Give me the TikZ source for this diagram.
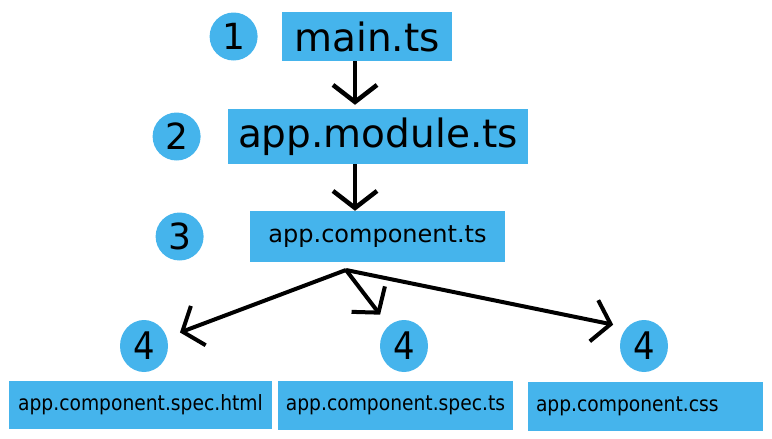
\documentclass[tikz,border=0pt]{standalone}
\usepackage{fontspec}
\setmainfont{DejaVu Sans}
\newfontfamily\condfont[FakeStretch=0.89]{DejaVu Sans}
\usetikzlibrary{arrows.meta,positioning,shapes.geometric}
\definecolor{skyblue}{HTML}{45B4EC}

\begin{document}
\begin{tikzpicture}[
x=1pt,y=-1pt,
file/.style={rectangle,fill=skyblue,inner sep=0pt},
big/.style={font=\fontsize{39}{44}\selectfont},
small/.style={font=\condfont\fontsize{21}{25}\selectfont},
num/.style={circle,fill=skyblue,inner sep=0pt,minimum size=48pt,font=\fontsize{36}{40}\selectfont},
numb/.style={ellipse,fill=skyblue,inner sep=0pt,minimum width=48pt,minimum height=52pt,font=\condfont\fontsize{38}{40}\selectfont},
arr/.style={-{Straight Barb[length=17pt,width=44pt]},line width=4.5pt},
arrb/.style={-{Straight Barb[length=17pt,width=42pt]},line width=4pt,shorten >=14pt}
]
\useasboundingbox (0,0) rectangle (772,439);

% top chain
\node[file,big,minimum width=170pt,minimum height=49pt] (main) at (367,36.5) {main.ts};
\node[file,big,minimum width=300pt,minimum height=55pt] (module) at (378,136.5) {app.module.ts};
\node[file,font=\fontsize{24}{28}\selectfont,minimum width=255pt,minimum height=51pt] (comp) at (377.5,236.5) {app.component.ts};

\node[num,left=24pt of main] (n1) {1};
\node[num,left=27pt of module] (n2) {2};
\node[num,left=46pt of comp] (n3) {3};

% bottom row
\node[numb] (n4a) at (144,346) {4};
\node[numb] (n4b) at (404,346) {4};
\node[numb] (n4c) at (644,346) {4};

\node[file,small,minimum width=263pt,minimum height=48pt] (html) at (140.5,405) {app.component.spec.html};
\node[file,small,minimum width=235pt,minimum height=49pt] (spec) at (395.5,405.5) {app.component.spec.ts};
\node[file,small,text width=219pt,align=left,inner xsep=8pt,minimum height=49pt] (css) at (645.5,406.5) {app.component.css};

\coordinate (split) at (346,270);

\draw[arr,shorten >=4pt] ([xshift=-12pt]main.south) -- ([xshift=-12pt]main.south |- module.north);
\draw[arr] ([xshift=-23pt]module.south) -- ([xshift=-23pt]module.south |- comp.north);
\draw[arrb] (split) -- (n4a);
\draw[arrb] (split) -- (n4b);
\draw[arrb] (split) -- (n4c.north west);
\end{tikzpicture}
\end{document}
